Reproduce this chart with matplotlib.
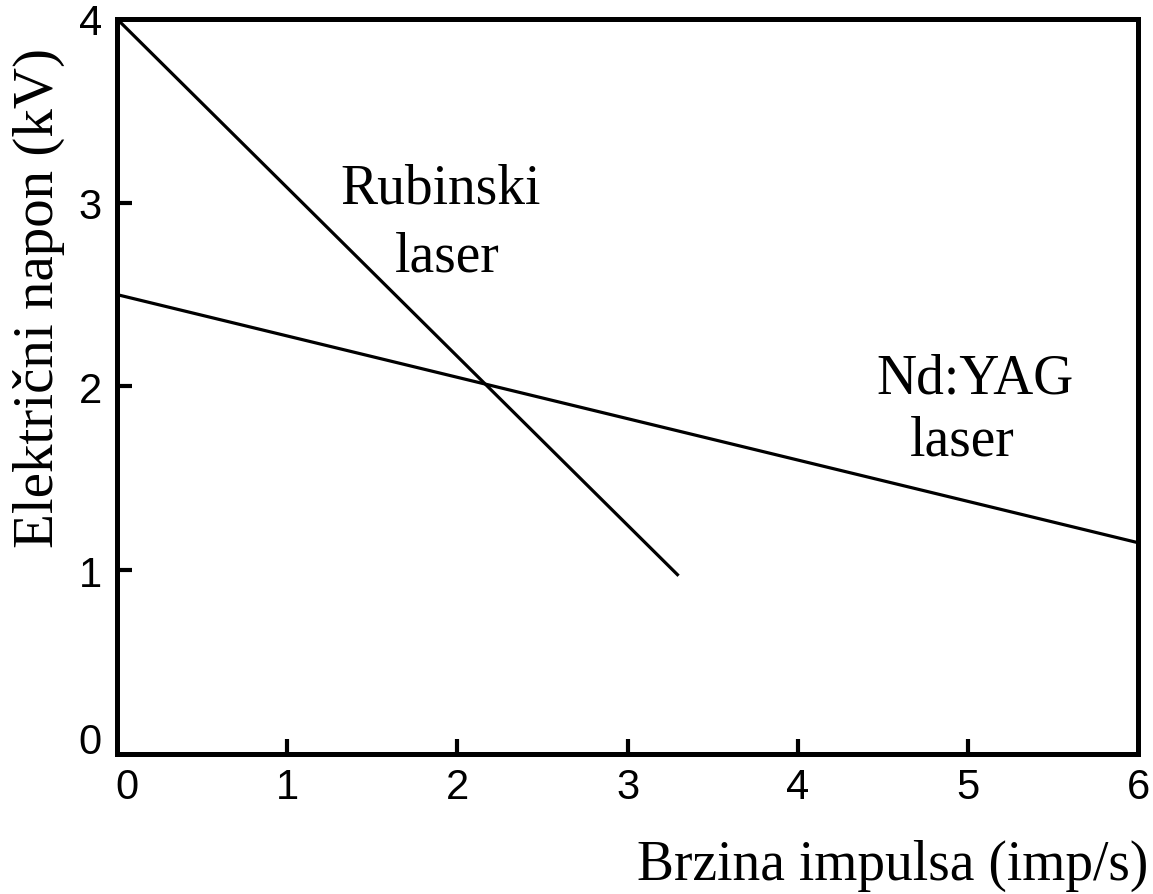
import matplotlib
matplotlib.use("Agg")
import matplotlib.pyplot as plt
from matplotlib.transforms import ScaledTranslation

# napon u ovisnosti o brzini impulsa
rubin_x = [0.0, 3.3]
rubin_y = [4.0, 0.97]
yag_x = [0.0, 6.0]
yag_y = [2.5, 1.15]

x_ticks = [0, 1, 2, 3, 4, 5, 6]
y_ticks = [0, 1, 2, 3, 4]

# natpisi uz pravce: (tekst, x, y) po redovima
rubin_lines = [('Rubinski', 1.90, 3.00), ('laser', 1.94, 2.63)]
yag_lines = [('Nd:YAG', 5.04, 1.97), ('laser', 4.97, 1.63)]

serif = 'Liberation Serif'
sans = 'Liberation Sans'

fig = plt.figure(figsize=(11.53, 8.95), dpi=100)
ax = fig.add_axes([0.1015, 0.1564, 0.8855, 0.8213])

ax.plot(rubin_x, rubin_y, color='black', lw=2.3, solid_capstyle='butt')
ax.plot(yag_x, yag_y, color='black', lw=2.3, solid_capstyle='butt', clip_on=False)

ax.set_xlim(0, 6)
ax.set_ylim(0, 4)
ax.set_xticks(x_ticks)
ax.set_yticks(y_ticks)
ax.set_xticklabels([str(t) for t in x_ticks], family=sans, fontsize=30)
ax.set_yticklabels([str(t) for t in y_ticks], family=sans, fontsize=30)
ax.tick_params(direction='in', length=11, width=3)
ax.tick_params(axis='x', pad=9)
ax.tick_params(axis='y', pad=11)
for t in ax.xaxis.get_major_ticks():
    if t.get_loc() in (0, 6):
        t.tick1line.set_visible(False)
for t in ax.yaxis.get_major_ticks():
    if t.get_loc() in (0, 4):
        t.tick1line.set_visible(False)

for s in ax.spines.values():
    s.set_linewidth(3.6)

ax.set_xlabel('Brzina impulsa (imp/s)', family=serif, fontsize=40)
ax.xaxis.label.set_ha('right')
ax.xaxis.label.set_va('baseline')
ax.xaxis.set_label_coords(1.01, -0.170)

ax.set_ylabel('Električni napon (kV)', family=serif, fontsize=41)
ax.yaxis.label.set_va('baseline')
ax.yaxis.set_label_coords(-0.063, 0.622)

for txt, x, y in rubin_lines + yag_lines:
    ax.text(x, y, txt, family=serif, fontsize=40, ha='center', va='baseline')

# nule pomaknute od kuta
lbl = ax.xaxis.get_major_ticks()[0].label1
lbl.set_transform(lbl.get_transform() + ScaledTranslation(7 / 72, 0, fig.dpi_scale_trans))
lbl = ax.yaxis.get_major_ticks()[0].label1
lbl.set_transform(lbl.get_transform() + ScaledTranslation(0, 12 / 72, fig.dpi_scale_trans))

fig.savefig('out.png', dpi=100)
